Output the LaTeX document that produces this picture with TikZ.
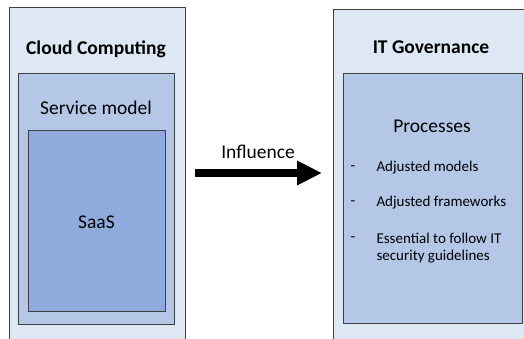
\documentclass[tikz,border=0pt]{standalone}
\usepackage{fontspec}
\setmainfont{Carlito}
\usetikzlibrary{arrows.meta}
\definecolor{paleblue}{HTML}{DEE8F4}
\definecolor{midblue}{HTML}{B4C7E7}
\definecolor{deepblue}{HTML}{8FAADC}
\definecolor{edgegray}{HTML}{404040}
\tikzset{
  x=1pt, y=-1pt,
  panel/.style={draw=edgegray, line width=1pt, anchor=north west, inner sep=0pt, outer sep=0pt},
  heading/.style={font=\fontsize{19.5}{23}\selectfont\bfseries, text=black},
  label/.style={font=\fontsize{19.5}{23}\selectfont, text=black},
  item/.style={font=\fontsize{15}{17}\selectfont, text=black, anchor=west, align=left},
}
\begin{document}
\begin{tikzpicture}
\useasboundingbox (0,0) rectangle (524,338);
\clip (0,0) rectangle (524,338);
\fill[white] (0,0) rectangle (524,338);

% Cloud computing column
\node[panel, fill=paleblue, minimum width=176pt, minimum height=340pt] (cc) at (9,7.5) {};
\node[panel, fill=midblue, minimum width=156pt, minimum height=251pt] (sm) at (18,73) {};
\node[panel, fill=deepblue, minimum width=137pt, minimum height=181pt] (saas) at (28,130) {};
\node[heading] (ccT) at (96,49) {Cloud Computing};
\node[label] (smT) at (96,108) {Service model};
\node[label] (saasT) at (96.5,222) {SaaS};

% IT governance column
\node[panel, fill=paleblue, minimum width=210pt, minimum height=340pt] (itg) at (333,9) {};
\node[panel, fill=midblue, minimum width=179pt, minimum height=250pt] (proc) at (343,73) {};
\node[heading] (itgT) at (431,47) {IT Governance};
\node[label] (procT) at (432,126) {Processes};

\node[item] (d1) at (347,168) {-};
\node[item] (i1) at (373,168) {Adjusted models};
\node[item] (d2) at (347,203) {-};
\node[item] (i2) at (373,203) {Adjusted frameworks};
\node[item] (d3) at (347,239) {-};
\node[item, anchor=north west] (i3) at (373,229.5) {Essential to follow IT\\security guidelines};

% Influence arrow
\coordinate (from) at (195,173);
\coordinate (to) at (322,173);
\draw[line width=8pt, -{Triangle[length=25pt, width=23pt]}] (from) -- (to);
\node[label] (infl) at (258,152) {Influence};
\end{tikzpicture}
\end{document}
